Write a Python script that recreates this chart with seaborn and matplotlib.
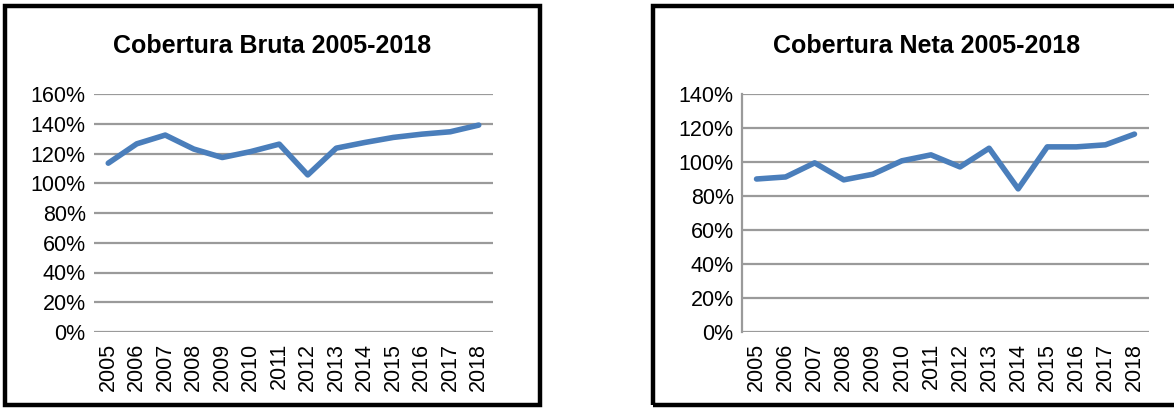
import pandas as pd
import seaborn as sns
import matplotlib
matplotlib.use('Agg')
import matplotlib.pyplot as plt
from matplotlib.patches import Rectangle
from matplotlib.ticker import FuncFormatter

# Data (percent)
years = ['2005', '2006', '2007', '2008', '2009', '2010', '2011',
         '2012', '2013', '2014', '2015', '2016', '2017', '2018']
bruta = [113.5, 126.5, 132.4, 123.0, 117.3, 121.3, 126.3,
         105.6, 123.6, 127.4, 130.8, 133.0, 134.6, 139.1]
neta = [90.0, 91.2, 99.5, 89.5, 92.8, 100.7, 104.2,
        97.1, 108.1, 84.2, 108.9, 108.9, 110.1, 116.4]

sns.set_style("white")
plt.rcParams['font.family'] = ['Liberation Sans Narrow', 'Liberation Sans', 'DejaVu Sans']

W, H = 1174, 408
fig = plt.figure(figsize=(W / 100, H / 100), dpi=100)

line_color = '#4a7ebb'
grid_color = '#9a9a9a'


def panel(box, axbox, values, title, ymax, left_spine):
    # box and axbox in pixels: (x0, y0_top, x1, y1_top)
    x0, y0, x1, y1 = box
    fig.patches.append(Rectangle((x0 / W, 1 - y1 / H), (x1 - x0) / W, (y1 - y0) / H,
                                 transform=fig.transFigure, fill=False,
                                 edgecolor='black', linewidth=3.2))
    a0, b0, a1, b1 = axbox
    ax = fig.add_axes([a0 / W, 1 - b1 / H, (a1 - a0) / W, (b1 - b0) / H])
    df = pd.DataFrame({'year': years, 'value': values})
    sns.lineplot(data=df, x='year', y='value', ax=ax, color=line_color,
                 linewidth=4, sort=False)
    ax.set_xlim(-0.5, len(years) - 0.5)
    ax.set_ylim(0, ymax)
    ax.set_yticks(range(0, ymax + 1, 20))
    ax.yaxis.set_major_formatter(FuncFormatter(lambda v, p: f'{int(v)}%'))
    ax.yaxis.grid(True, color=grid_color, linewidth=1.6)
    ax.set_axisbelow(True)
    for s in ['top', 'right', 'bottom']:
        ax.spines[s].set_visible(False)
    if left_spine:
        ax.spines['left'].set_color(grid_color)
        ax.spines['left'].set_linewidth(1.6)
    else:
        ax.spines['left'].set_visible(False)
    ax.tick_params(axis='both', length=0, labelsize=15.5, colors='black', pad=6)
    ax.tick_params(axis='x', labelrotation=90, pad=8)
    ax.set_xlabel('')
    ax.set_ylabel('')
    fig.text((x0 + x1) / 2 / W, 1 - 46 / H, title, ha='center', va='center',
             fontsize=18, fontweight='bold', color='black')
    return ax


panel((5, 6, 540, 405), (94, 94, 493, 332), bruta, 'Cobertura Bruta 2005-2018', 160, False)
panel((653, 6, 1200, 405), (742, 94, 1149, 332), neta, 'Cobertura Neta 2005-2018', 140, True)

fig.savefig('out.png', dpi=100)
